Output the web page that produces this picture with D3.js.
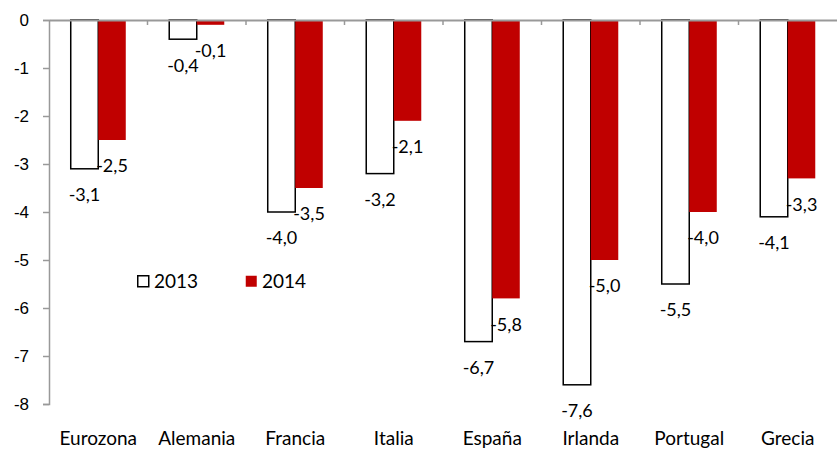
<!DOCTYPE html>
<html>
<head>
<meta charset="utf-8">
<script src="https://cdn.jsdelivr.net/npm/d3@7"></script>
<style>
  html, body { margin: 0; padding: 0; background: #fff; }
  svg { display: block; }
</style>
</head>
<body>
<svg id="chart" width="837" height="451"></svg>
<script>
// Saldo público por país, 2013 y 2014 (% del PIB)
const categories = ["Eurozona", "Alemania", "Francia", "Italia", "España", "Irlanda", "Portugal", "Grecia"];
const series = ["2013", "2014"];
const values2013 = [-3.1, -0.4, -4.0, -3.2, -6.7, -7.6, -5.5, -4.1];
const values2014 = [-2.5, -0.1, -3.5, -2.1, -5.8, -5.0, -4.0, -3.3];
const yTicks = [0, -1, -2, -3, -4, -5, -6, -7, -8];

const W = 837, H = 451;
const plot = { left: 49, right: 837, top: 20, bottom: 404 };
const red = "#C00000";
const sansLabel = "Lato, 'Open Sans', sans-serif";
const sansAxis = "'Liberation Sans', Arial, sans-serif";

const svg = d3.select("#chart");

const x = d3.scaleBand().domain(categories).range([plot.left, plot.right]).paddingInner(0).paddingOuter(0);
const xInner = d3.scaleBand().domain(series).range([0, x.bandwidth()]).paddingInner(0).paddingOuter(0.79);
const y = d3.scaleLinear().domain([0, -8]).range([plot.top, plot.bottom]);

const rows = categories.map((c, i) => ({ cat: c, vals: [values2013[i], values2014[i]] }));

// Bars
const groups = svg.append("g").selectAll("g").data(rows).join("g")
  .attr("transform", d => `translate(${x(d.cat)},0)`);

groups.selectAll("rect").data(d => d.vals.map((v, k) => ({ v, s: series[k] }))).join("rect")
  .attr("x", d => xInner(d.s))
  .attr("y", y(0))
  .attr("width", xInner.bandwidth())
  .attr("height", d => y(d.v) - y(0))
  .attr("fill", d => d.s === "2013" ? "#fff" : red)
  .attr("stroke", d => d.s === "2013" ? "#000" : "none")
  .attr("stroke-width", 1.5);

// Y axis
const yAxis = d3.axisLeft(y).tickValues(yTicks).tickSize(6).tickFormat(d3.format("d"));
const gy = svg.append("g").attr("transform", `translate(${plot.left},0)`).call(yAxis);
gy.select(".domain").attr("stroke", "#999").attr("stroke-width", 1.5);
gy.selectAll(".tick line").attr("stroke", "#999").attr("stroke-width", 1.5);
gy.selectAll(".tick text")
  .attr("x", -20)
  .attr("font-family", sansAxis)
  .attr("font-size", 17)
  .attr("fill", "#000")
  .text(d => d === 0 ? "0" : d3.format("d")(d).replace("−", "-"));

// Category axis along zero
const xAxis = d3.axisBottom(x).tickSize(6).tickSizeOuter(0).tickFormat("");
const gx = svg.append("g").attr("transform", `translate(0,${y(0)})`).call(xAxis);
gx.select(".domain").attr("stroke", "#999").attr("stroke-width", 2);
gx.selectAll(".tick").remove();
// separator ticks between categories
gx.selectAll("line.sep").data(categories.slice(1)).join("line")
  .attr("class", "sep")
  .attr("x1", d => x(d)).attr("x2", d => x(d))
  .attr("y1", 0).attr("y2", 5)
  .attr("stroke", "#999").attr("stroke-width", 1.5);

// Category labels at the bottom
svg.append("g").selectAll("text").data(categories).join("text")
  .attr("x", d => x(d) + x.bandwidth() / 2)
  .attr("y", 445)
  .attr("text-anchor", "middle")
  .attr("font-family", sansLabel)
  .attr("font-size", 19)
  .attr("fill", "#000")
  .text(d => d);

// Value labels
const fmt = v => d3.format(".1f")(v).replace(".", ",").replace("−", "-");
groups.selectAll("text").data(d => d.vals.map((v, k) => ({ v, s: series[k] }))).join("text")
  .attr("x", d => xInner(d.s) + xInner.bandwidth() / 2)
  .attr("y", d => y(d.v) + 26)
  .attr("dy", "0.35em")
  .attr("text-anchor", "middle")
  .attr("font-family", sansLabel)
  .attr("font-size", 18)
  .attr("fill", "#000")
  .text(d => fmt(d.v));

// Legend
const legend = svg.append("g").attr("transform", "translate(137,275)");
const items = legend.selectAll("g").data(series).join("g")
  .attr("transform", (d, i) => `translate(${i * 108},0)`);
items.append("rect")
  .attr("x", 0.75).attr("y", 0.75)
  .attr("width", 11).attr("height", 11)
  .attr("fill", d => d === "2013" ? "#fff" : red)
  .attr("stroke", d => d === "2013" ? "#000" : "none")
  .attr("stroke-width", 1.5);
items.append("text")
  .attr("x", 17).attr("y", 6.5)
  .attr("dy", "0.35em")
  .attr("font-family", sansLabel)
  .attr("font-size", 19)
  .attr("fill", "#000")
  .text(d => d);
</script>
</body>
</html>
